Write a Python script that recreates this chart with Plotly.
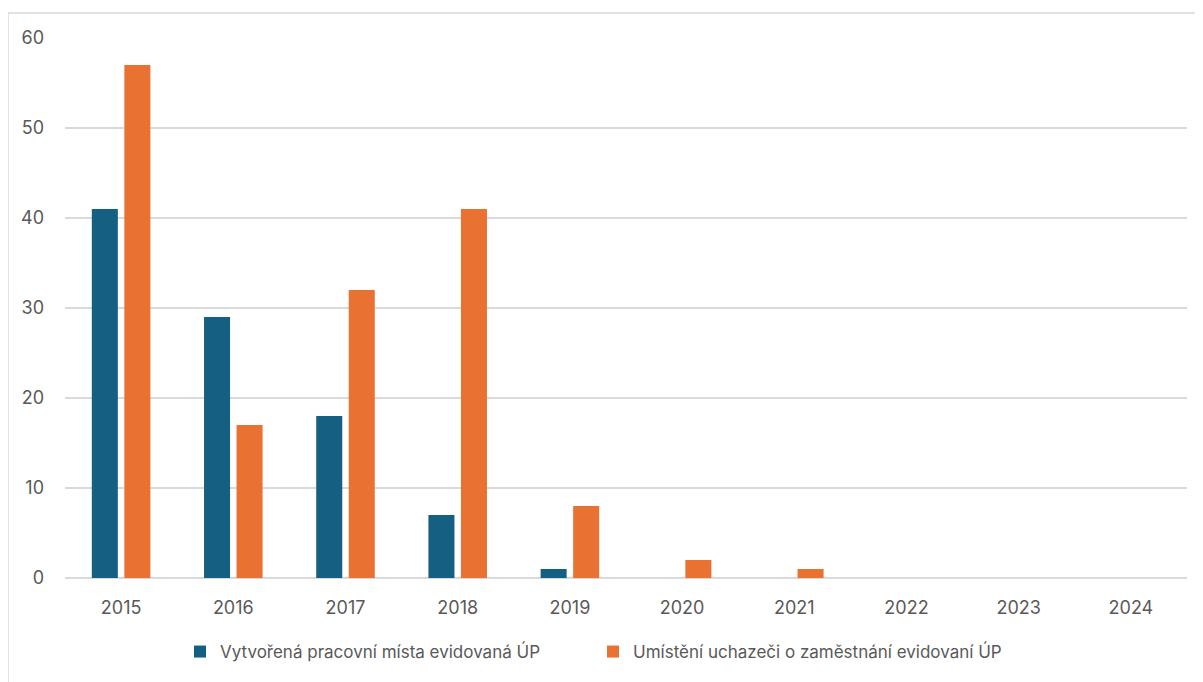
import plotly.graph_objects as go

years = ["2015", "2016", "2017", "2018", "2019", "2020", "2021", "2022", "2023", "2024"]
created_jobs = [41, 29, 18, 7, 1, 0, 0, 0, 0, 0]
placed_applicants = [57, 17, 32, 41, 8, 2, 1, 0, 0, 0]
series_names = ["Vytvořená pracovní místa evidovaná ÚP",
                "Umístění uchazeči o zaměstnání evidovaní ÚP"]
y_ticks = [0, 10, 20, 30, 40, 50, 60]

BLUE = "#156082"
ORANGE = "#E97132"
GRID = "#D9D9D9"
TEXT = "#595959"
FONT = "Inter, Liberation Sans, Arial, sans-serif"

fig = go.Figure()
fig.add_trace(go.Bar(x=years, y=created_jobs, name=series_names[0],
                     marker=dict(color=BLUE, line=dict(width=0))))
fig.add_trace(go.Bar(x=years, y=placed_applicants, name=series_names[1],
                     marker=dict(color=ORANGE, line=dict(width=0))))

OFF = 8  # page body margin
W, H = 1203 - OFF, 682 - OFF
ml, mt = 65 - OFF, 38 - OFF
mr = (1203 - 1187)
mb = 682 - 578
pw, ph = W - ml - mr, H - mt - mb

def px_x(x):
    return (x - OFF - ml) / pw

def px_y(y):
    return ((578 - OFF) - (y - OFF)) / ph

fig.update_layout(
    width=W, height=H,
    margin=dict(l=ml, r=mr, t=mt, b=mb, pad=0),
    paper_bgcolor="white", plot_bgcolor="white",
    font=dict(family=FONT, size=17, color=TEXT),
    barmode="group", bargap=0.42, bargroupgap=0.2,
    showlegend=True,
    legend=dict(orientation="h", x=px_x(205 - 25), xanchor="left",
                y=px_y(652), yanchor="middle",
                font=dict(family=FONT, size=17, color=TEXT),
                entrywidth=368, entrywidthmode="pixels",
                itemwidth=30, bgcolor="rgba(0,0,0,0)"),
    xaxis=dict(type="category", showgrid=False, showline=False, zeroline=False,
               ticks="", ticklabelstandoff=17,
               tickfont=dict(family=FONT, size=18, color=TEXT)),
    yaxis=dict(range=[0, 60], tickvals=y_ticks, showgrid=True, gridcolor=GRID,
               gridwidth=1.5, zeroline=True, zerolinecolor=GRID, zerolinewidth=1.5,
               showline=False, ticks="", ticklabelstandoff=20,
               tickfont=dict(family=FONT, size=18, color=TEXT)),
    shapes=[dict(type="rect", xref="paper", yref="paper",
                 x0=px_x(8), x1=1.2, y0=-0.3, y1=px_y(13),
                 line=dict(color=GRID, width=1.5), fillcolor="rgba(0,0,0,0)",
                 layer="below")],
)

fig.write_html("out.html")
